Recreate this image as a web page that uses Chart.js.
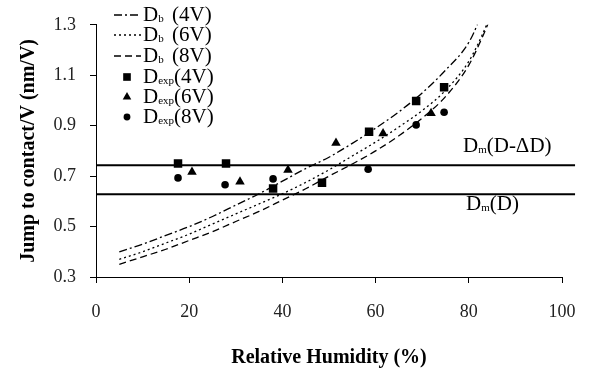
<!DOCTYPE html>
<html>
<head>
<meta charset="utf-8">
<script src="https://cdn.jsdelivr.net/npm/chart.js@4.4.1/dist/chart.umd.min.js"></script>
<style>
  body { margin: 0; background: #fff; }
  #wrap { width: 594px; height: 375px; position: relative; }
</style>
</head>
<body>
<div id="wrap"><canvas id="rh-chart"></canvas></div>
<script>
// fitted curves D_b
const db4V_rh = [5, 10, 15, 20, 25, 30, 35, 40, 45, 50, 55, 60, 65, 70, 75, 80, 82, 82.5];
const db4V = [0.40, 0.43, 0.465, 0.50, 0.54, 0.585, 0.63, 0.68, 0.73, 0.775, 0.83, 0.89, 0.955, 1.03, 1.12, 1.23, 1.31, 1.34];
const db6V_rh = [5, 10, 15, 20, 25, 30, 35, 40, 45, 50, 55, 60, 65, 70, 75, 80, 83, 84.5];
const db6V = [0.37, 0.40, 0.435, 0.47, 0.51, 0.55, 0.59, 0.63, 0.675, 0.725, 0.78, 0.835, 0.895, 0.96, 1.04, 1.155, 1.265, 1.33];
const db8V_rh = [5, 10, 15, 20, 25, 30, 35, 40, 45, 50, 55, 60, 65, 70, 75, 80, 83, 84.7];
const db8V = [0.35, 0.38, 0.41, 0.445, 0.48, 0.52, 0.56, 0.605, 0.65, 0.70, 0.748, 0.80, 0.86, 0.93, 1.015, 1.14, 1.255, 1.33];

// measured points
const exp4V_rh = [17.6, 27.9, 38.0, 48.5, 58.6, 68.7, 74.7];
const exp4V = [0.75, 0.75, 0.651, 0.674, 0.876, 0.998, 1.052];
const exp6V_rh = [20.6, 30.9, 41.2, 51.5, 61.6, 71.9];
const exp6V = [0.716, 0.678, 0.724, 0.831, 0.869, 0.949];
const exp8V_rh = [17.6, 27.7, 38.0, 58.4, 68.7, 74.7];
const exp8V = [0.693, 0.666, 0.689, 0.727, 0.903, 0.953];

// limits D_m
const limitRH = [0, 102.8];
const dmDminus = 0.743;
const dmD = 0.628;

const xTicks = [0, 20, 40, 60, 80, 100];
const yTicks = [0.3, 0.5, 0.7, 0.9, 1.1, 1.3];

const serif = "'Liberation Serif', 'Times New Roman', serif";

function pts(xs, ys) {
    return xs.map(function(x, i){ return {x: x, y: ys[i]}; });
}

function curve(label, xs, ys, dash) {
    return {
        label: label,
        data: pts(xs, ys),
        showLine: true,
        borderColor: '#000',
        borderWidth: 1.3,
        borderDash: dash,
        pointRadius: 0,
        cubicInterpolationMode: 'monotone',
        fill: false
    };
}

function marks(label, xs, ys, style, r) {
    return {
        label: label,
        data: pts(xs, ys),
        showLine: false,
        pointStyle: style,
        pointRadius: r,
        pointBackgroundColor: '#000',
        pointBorderColor: '#000',
        pointBorderWidth: 0
    };
}

function hline(val) {
    return {
        label: '',
        data: pts(limitRH, [val, val]),
        showLine: true,
        borderColor: '#000',
        borderWidth: 2,
        pointRadius: 0,
        clip: false
    };
}

const datasets = [
    marks('D_exp(4V)', exp4V_rh, exp4V, 'rect', 6),
    marks('D_exp(6V)', exp6V_rh, exp6V, 'triangle', 5.5),
    marks('D_exp(8V)', exp8V_rh, exp8V, 'circle', 3.8),
    curve('D_b (4V)', db4V_rh, db4V, [8, 3, 2, 3]),
    curve('D_b (6V)', db6V_rh, db6V, [2, 3]),
    curve('D_b (8V)', db8V_rh, db8V, [7, 4]),
    hline(dmDminus),
    hline(dmD)
];

// legend order as in the picture
const legendOrder = [3, 4, 5, 0, 1, 2];

function drawSubText(ctx, x, y, main, sub, rest, restX) {
    ctx.font = '21px ' + serif;
    ctx.fillText(main, x, y);
    let w = ctx.measureText(main).width;
    ctx.font = '11px ' + serif;
    ctx.fillText(sub, x + w, y + 4);
    let ws = ctx.measureText(sub).width;
    ctx.font = '21px ' + serif;
    let rx = x + w + ws;
    if (restX !== undefined) rx = Math.max(restX, rx);
    ctx.fillText(rest, rx, y);
}

function drawMarker(ctx, style, x, y, r) {
    ctx.beginPath();
    if (style === 'rect') {
        const s = r * Math.SQRT1_2;
        ctx.rect(x - s, y - s, 2 * s, 2 * s);
    } else if (style === 'triangle') {
        ctx.moveTo(x, y - r);
        ctx.lineTo(x + r * 0.866, y + r * 0.5);
        ctx.lineTo(x - r * 0.866, y + r * 0.5);
        ctx.closePath();
    } else {
        ctx.arc(x, y, r, 0, Math.PI * 2);
    }
    ctx.fill();
}

const textPlugin = {
    id: 'textPlugin',
    afterDatasetsDraw(chart) {
        const ctx = chart.ctx;
        const ys = chart.scales.y;
        ctx.save();
        ctx.fillStyle = '#000';
        ctx.strokeStyle = '#000';
        ctx.textBaseline = 'middle';
        ctx.textAlign = 'left';

        // legend
        const rowY = [15, 35, 56, 77, 97, 117];
        legendOrder.forEach(function(idx, i){
            const ds = chart.data.datasets[idx];
            const y = rowY[i];
            if (ds.showLine) {
                ctx.save();
                ctx.lineWidth = 1.3;
                ctx.setLineDash(ds.borderDash);
                ctx.beginPath();
                ctx.moveTo(114, y);
                ctx.lineTo(141, y);
                ctx.stroke();
                ctx.restore();
            } else {
                drawMarker(ctx, ds.pointStyle, 127, y, ds.pointRadius * 0.9);
            }
            const parts = ds.label.split('_');
            const sub = parts[1].match(/^[a-z]+/)[0];
            const rest = parts[1].slice(sub.length).trim();
            drawSubText(ctx, 143, y, parts[0], sub, rest, 172);
        });

        // limit labels
        drawSubText(ctx, 463, ys.getPixelForValue(dmDminus) - 19, 'D', 'm', '(D-ΔD)');
        drawSubText(ctx, 466, ys.getPixelForValue(dmD) + 10, 'D', 'm', '(D)');
        ctx.restore();
    }
};

const options = {
    responsive: true,
    maintainAspectRatio: false,
    animation: false,
    layout: {
        padding: { top: 15, right: 32, left: 0, bottom: 0 }
    },
    plugins: {
        legend: { display: false },
        tooltip: { enabled: false }
    },
    scales: {
        x: {
            type: 'linear',
            min: 0,
            max: 100,
            afterBuildTicks: function(scale){ scale.ticks = xTicks.map(function(v){ return {value: v}; }); },
            afterFit: function(scale){ scale.height = 98; },
            grid: { drawOnChartArea: false, drawTicks: true, tickLength: 6, color: '#000' },
            border: { display: true, color: '#000', width: 1 },
            ticks: {
                color: '#222',
                padding: 18,
                maxRotation: 0,
                font: { family: serif, size: 18 }
            },
            title: {
                display: true,
                text: 'Relative Humidity (%)',
                color: '#000',
                font: { family: serif, size: 20, weight: 'bold' },
                padding: { top: 0, bottom: 5 }
            }
        },
        y: {
            type: 'linear',
            min: 0.3,
            max: 1.3,
            afterBuildTicks: function(scale){ scale.ticks = yTicks.map(function(v){ return {value: v}; }); },
            afterFit: function(scale){ scale.width = 96; },
            grid: { drawOnChartArea: false, drawTicks: true, tickLength: 6, color: '#000' },
            border: { display: true, color: '#000', width: 1 },
            ticks: {
                color: '#222',
                padding: 14,
                font: { family: serif, size: 18 },
                callback: function(v){ return Number(v).toFixed(1); }
            },
            title: {
                display: true,
                text: 'Jump to contact/V (nm/V)',
                color: '#000',
                font: { family: serif, size: 20, weight: 'bold' },
                padding: { top: 17, bottom: 0 }
            }
        }
    }
};

let rhElement = document.getElementById('rh-chart').getContext('2d');
let rhChart = new Chart(rhElement, {
    type: 'scatter',
    data: { datasets: datasets },
    options: options,
    plugins: [textPlugin]
});
</script>
</body>
</html>
